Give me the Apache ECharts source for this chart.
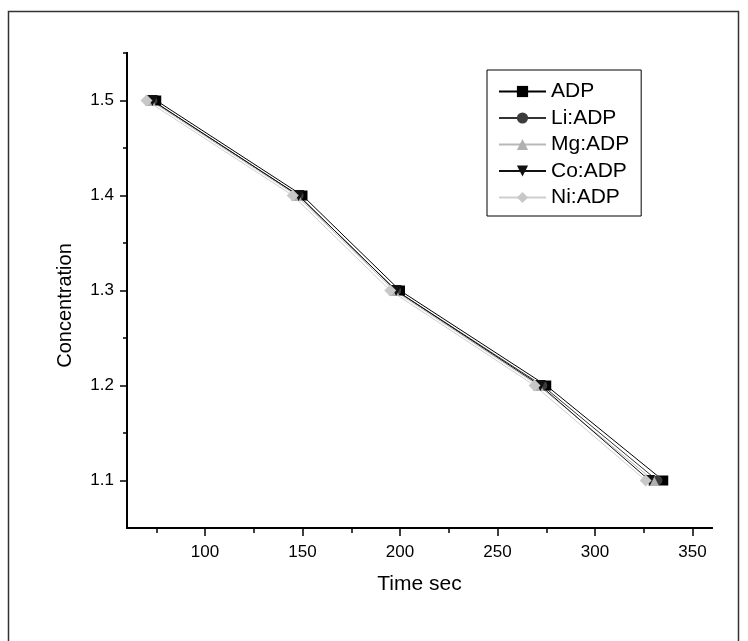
<!DOCTYPE html>
<html>
<head>
<meta charset="utf-8">
<script src="https://cdn.jsdelivr.net/npm/echarts@6/dist/echarts.min.js"></script>
<style>
  html, body { margin: 0; padding: 0; background: #fff; }
  #chart { width: 748px; height: 641px; }
</style>
</head>
<body>
<div id="chart"></div>
<script>
var seriesNames = ['ADP', 'Li:ADP', 'Mg:ADP', 'Co:ADP', 'Ni:ADP'];
var concentration = [1.5, 1.4, 1.3, 1.2, 1.1];
var timeADP = [75, 150, 200, 275, 335];
var timeLi = [73, 148, 198, 273, 332];
var timeMg = [72, 147, 197, 271, 330];
var timeCo = [73, 148, 198, 272, 328];
var timeNi = [70, 145, 195, 269, 326];
var xTicks = [100, 150, 200, 250, 300, 350];
var xMinorTicks = [75, 125, 175, 225, 275, 325];
var yTicks = [1.1, 1.2, 1.3, 1.4, 1.5];
var yMinorTicks = [1.15, 1.25, 1.35, 1.45, 1.55];

var chart = echarts.init(document.getElementById('chart'));

function pairs(xs) {
    return xs.map(function (x, i) { return [x, concentration[i]]; });
}

var font = "'Liberation Sans', Arial, sans-serif";

// shared look for the overlaid axes
function xAx(extra) {
    return Object.assign({
        type: 'value', min: 60, max: 360, position: 'bottom',
        splitLine: { show: false },
        axisLine: { show: true, lineStyle: { color: '#000', width: 2 } },
        axisLabel: { show: false },
        axisTick: { show: false }
    }, extra);
}
function yAx(extra) {
    return Object.assign({
        type: 'value', min: 1.05, max: 1.55, position: 'left',
        splitLine: { show: false },
        axisLine: { show: true, lineStyle: { color: '#000', width: 2 } },
        axisLabel: { show: false },
        axisTick: { show: false }
    }, extra);
}

var option = {
    animation: false,
    backgroundColor: '#fff',
    graphic: [{
        type: 'rect',
        shape: { x: 8.5, y: 11.5, width: 730, height: 640 },
        style: { fill: 'none', stroke: '#333', lineWidth: 1.5 },
        silent: true
    }],
    grid: { left: 127, right: 36, top: 53, bottom: 113 },
    legend: {
        orient: 'vertical',
        left: 487,
        top: 70,
        padding: [11, 12, 8, 11],
        borderColor: '#000',
        borderWidth: 1,
        itemWidth: 47,
        itemHeight: 14,
        itemGap: 5.5,
        data: seriesNames,
        textStyle: { fontFamily: font, fontSize: 21, lineHeight: 18, color: '#000' }
    },
    xAxis: [
        xAx({
            name: 'Time sec',
            nameLocation: 'middle',
            nameGap: 46,
            nameTextStyle: { fontFamily: font, fontSize: 21, color: '#000' },
            axisTick: { show: true, inside: false, length: 8, customValues: xTicks, lineStyle: { color: '#000', width: 1.5 } },
            axisLabel: { show: true, customValues: xTicks, margin: 16, fontFamily: font, fontSize: 17, color: '#000' }
        }),
        xAx({
            axisTick: { show: true, inside: false, length: 5, customValues: xMinorTicks, lineStyle: { color: '#000', width: 1.5 } }
        })
    ],
    yAxis: [
        yAx({
            name: 'Concentration',
            nameLocation: 'middle',
            nameGap: 52,
            nameTextStyle: { fontFamily: font, fontSize: 20, color: '#000', padding: [0, 30, 0, 0] },
            axisTick: { show: true, inside: false, length: 7, customValues: yTicks, lineStyle: { color: '#000', width: 1.5 } },
            axisLabel: {
                show: true, customValues: yTicks, margin: 13, fontFamily: font, fontSize: 17, color: '#000',
                formatter: function (v) { return v.toFixed(1); }
            }
        }),
        yAx({
            axisTick: { show: true, inside: false, length: 4, customValues: yMinorTicks, lineStyle: { color: '#000', width: 1.5 } }
        })
    ],
    series: [
        {
            name: 'ADP', type: 'line', data: pairs(timeADP),
            symbol: 'rect', symbolSize: 10,
            lineStyle: { color: '#000', width: 1 },
            itemStyle: { color: '#000' }
        },
        {
            name: 'Li:ADP', type: 'line', data: pairs(timeLi),
            symbol: 'circle', symbolSize: 10,
            lineStyle: { color: '#333', width: 1 },
            itemStyle: { color: '#3c3c3c' }
        },
        {
            name: 'Mg:ADP', type: 'line', data: pairs(timeMg),
            symbol: 'triangle', symbolSize: 11,
            lineStyle: { color: '#b8b8b8', width: 1 },
            itemStyle: { color: '#b0b0b0' }
        },
        {
            name: 'Co:ADP', type: 'line', data: pairs(timeCo),
            symbol: 'triangle', symbolRotate: 180, symbolSize: 11,
            lineStyle: { color: '#111', width: 1 },
            itemStyle: { color: '#111' }
        },
        {
            name: 'Ni:ADP', type: 'line', data: pairs(timeNi),
            symbol: 'diamond', symbolSize: 12,
            lineStyle: { color: '#cfcfcf', width: 1 },
            itemStyle: { color: '#c8c8c8' }
        }
    ]
};

chart.setOption(option);
</script>
</body>
</html>
